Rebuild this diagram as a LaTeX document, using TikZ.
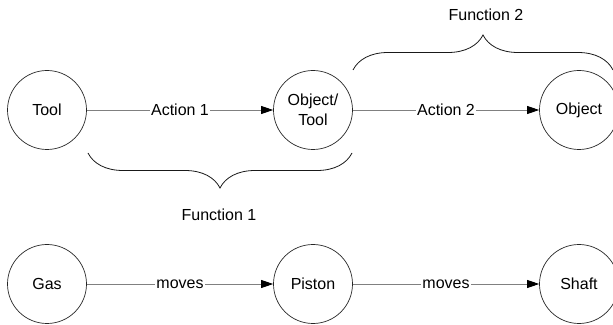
\documentclass[tikz,border=0pt]{standalone}
\usepackage{fontspec}
\setmainfont{Liberation Sans}
\usetikzlibrary{arrows.meta,decorations.pathreplacing}
\begin{document}
\begin{tikzpicture}[x=1pt,y=1pt,
  entity/.style={circle,draw=black!85,line width=0.7pt,minimum size=79pt,
    inner sep=0pt,align=center,font=\fontsize{16}{19.5}\selectfont},
  act/.style={draw=black!50,line width=0.8pt,
    -{Triangle[length=12pt,width=8pt,color=black,fill=black]}},
  actlabel/.style={fill=white,inner sep=1.5pt,font=\fontsize{16}{19}\selectfont},
  bracket/.style={draw=black!90,line width=0.8pt,decorate,
    decoration={brace,amplitude=35pt}},
  caption/.style={inner sep=0pt,font=\fontsize{16}{19}\selectfont}]
\useasboundingbox (0,0) rectangle (613,324);

% upper chain: tool acts on an object that acts as a tool
\node[entity] (tool)    at (47,214)  {Tool};
\node[entity] (objtool) at (313,214) {Object/\\Tool};
\node[entity] (object)  at (579,214) {Object};
\draw[act] (tool) -- node[actlabel] (a1) {Action 1} (objtool);
\draw[act] (objtool) -- node[actlabel] (a2) {Action 2} (object);

% lower chain: worked example
\node[entity] (gas)    at (47,40)  {Gas};
\node[entity] (piston) at (313,40) {Piston};
\node[entity] (shaft)  at (579,40) {Shaft};
\draw[act] (gas) -- node[actlabel] (m1) {moves} (piston);
\draw[act] (piston) -- node[actlabel] (m2) {moves} (shaft);

% braces grouping the two functions
\coordinate (f1r) at (352,171);
\coordinate (f1l) at (88,171);
\draw[bracket] (f1r) -- (f1l);
\node[caption] (fn1) at (219,109) {Function 1};

\coordinate (f2l) at (353,254);
\coordinate (f2r) at (613,254);
\draw[bracket] (f2l) -- (f2r);
\node[caption] (fn2) at (486,309) {Function 2};
\end{tikzpicture}
\end{document}
